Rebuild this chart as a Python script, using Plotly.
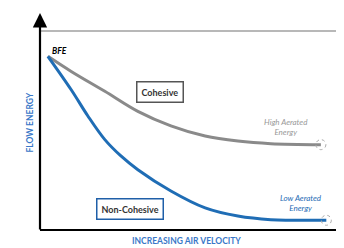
import plotly.graph_objects as go

# Data (in arbitrary units: air velocity 0-10, flow energy 0-10)
cohesive_x = [0.26, 1.03, 2.14, 3.23, 4.32, 5.45, 6.53, 7.62, 9.27]
cohesive_y = [8.73, 7.97, 6.97, 5.96, 5.23, 4.72, 4.47, 4.34, 4.29]
noncoh_x = [0.26, 1.03, 1.58, 2.14, 2.67, 3.23, 4.32, 5.45, 6.53, 7.62, 9.45]
noncoh_y = [8.73, 7.05, 5.73, 4.54, 3.72, 3.03, 1.96, 1.11, 0.70, 0.52, 0.49]

GRAY = "#8a8a8a"
BLUE = "#1f6db5"
TITLE_BLUE = "#3a78c8"
FONT = "Lato"

fig = go.Figure()
fig.add_trace(go.Scatter(x=cohesive_x, y=cohesive_y, mode="lines",
                         line=dict(color=GRAY, width=3, shape="spline", smoothing=1.0),
                         hoverinfo="skip", showlegend=False))
fig.add_trace(go.Scatter(x=noncoh_x, y=noncoh_y, mode="lines",
                         line=dict(color=BLUE, width=3, shape="spline", smoothing=1.0),
                         hoverinfo="skip", showlegend=False))

shapes = [
    # gray frame (top and right)
    dict(type="line", xref="paper", yref="paper", x0=0, x1=1, y0=1, y1=1,
         line=dict(color="#a0a0a0", width=1.5)),
    dict(type="line", xref="paper", yref="paper", x0=1, x1=1, y0=1, y1=0.035,
         line=dict(color="#a0a0a0", width=1.5)),
    # dashed end circles
    dict(type="circle", xref="x", yref="y", xsizemode="pixel", ysizemode="pixel",
         xanchor=cohesive_x[-1], yanchor=cohesive_y[-1], x0=-5, x1=5, y0=-5, y1=5,
         line=dict(color="#aaaaaa", width=1, dash="dot")),
    dict(type="circle", xref="x", yref="y", xsizemode="pixel", ysizemode="pixel",
         xanchor=noncoh_x[-1], yanchor=noncoh_y[-1], x0=-5, x1=5, y0=-5, y1=5,
         line=dict(color="#aaaaaa", width=1, dash="dot")),
]

annotations = [
    # y axis arrow
    dict(xref="x domain", yref="y domain", x=0, y=1.09, axref="x domain", ayref="y domain",
         ax=0, ay=-0.005, text="", showarrow=True, arrowhead=2, arrowsize=1.3,
         arrowwidth=2.2, arrowcolor="black", standoff=0),
    # x axis arrow
    dict(xref="x domain", yref="y domain", x=1.035, y=0, axref="x domain", ayref="y domain",
         ax=-0.005, ay=0, text="", showarrow=True, arrowhead=2, arrowsize=1.3,
         arrowwidth=2.2, arrowcolor="black", standoff=0),
    # axis titles
    dict(xref="paper", yref="paper", x=-0.056, y=0.54, text="<b>FLOW ENERGY</b>",
         textangle=-90, showarrow=False,
         font=dict(family=FONT, size=8.5, color=TITLE_BLUE)),
    dict(xref="paper", yref="paper", x=0.482, y=-0.09, text="<b>INCREASING AIR VELOCITY</b>",
         showarrow=False, font=dict(family=FONT, size=8.5, color=TITLE_BLUE)),
    # labels
    dict(x=0.65, y=8.98, text="<b><i>BFE</i></b>", showarrow=False,
         font=dict(family=FONT, size=8.5, color="black")),
    dict(x=3.96, y=6.93, text="<b>Cohesive</b>", showarrow=False,
         font=dict(family=FONT, size=9, color="#333333"),
         bordercolor="#555555", borderwidth=1.5, borderpad=4, bgcolor="white"),
    dict(x=2.97, y=1.06, text="<b>Non-Cohesive</b>", showarrow=False,
         font=dict(family=FONT, size=9, color="#333333"),
         bordercolor="#1f5fa8", borderwidth=1.5, borderpad=4, bgcolor="white"),
    dict(x=8.12, y=5.18, text="<i>High Aerated<br>Energy</i>", showarrow=False,
         font=dict(family=FONT, size=8, color="#999999")),
    dict(x=8.61, y=1.36, text="<i>Low Aerated<br>Energy</i>", showarrow=False,
         font=dict(family=FONT, size=8, color=BLUE)),
]

fig.update_layout(
    width=344, height=248,
    margin=dict(l=32, r=9, t=23, b=26),
    paper_bgcolor="white", plot_bgcolor="white",
    xaxis=dict(range=[0, 10], visible=False, fixedrange=True),
    yaxis=dict(range=[0, 10], visible=False, fixedrange=True),
    shapes=shapes, annotations=annotations, showlegend=False,
)

fig.write_html("out.html")
